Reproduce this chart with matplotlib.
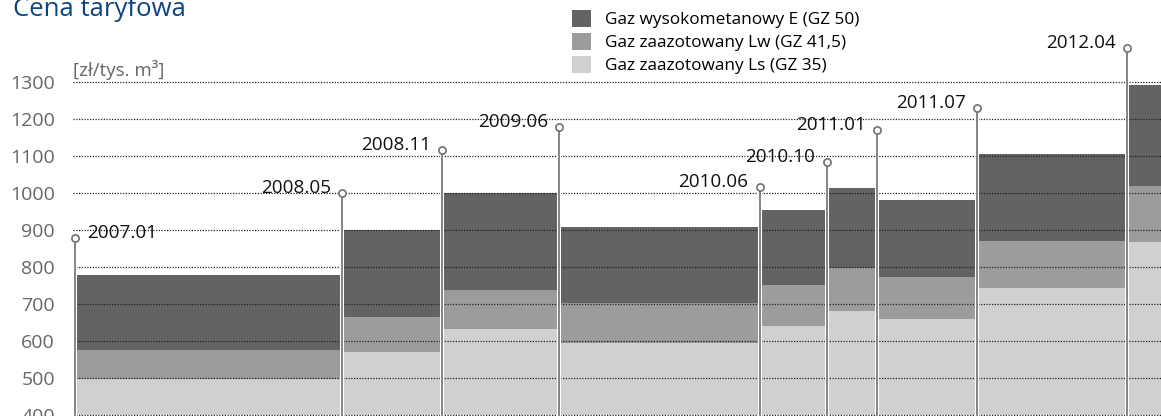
import numpy as np
import matplotlib.pyplot as plt
from matplotlib.patches import Patch
import matplotlib.patheffects as pe

plt.rcParams['font.family'] = ['Open Sans', 'DejaVu Sans']

# tariff change dates and price levels [zł/tys. m3]
dates = ['2007.01', '2008.05', '2008.11', '2009.06', '2010.06',
         '2010.10', '2011.01', '2011.07', '2012.04']
gaz_E = [778, 899, 999, 907, 954, 1013, 981, 1105, 1292]
gaz_Lw = [576, 665, 737, 703, 751, 798, 773, 870, 1019]
gaz_Ls = [497, 571, 632, 595, 641, 681, 660, 743, 868]
# height of the date markers
label_y = [878, 999, 1116, 1178, 1017, 1085, 1170, 1229, 1391]

names = ['Gaz wysokometanowy E (GZ 50)', 'Gaz zaazotowany Lw (GZ 41,5)',
         'Gaz zaazotowany Ls (GZ 35)']
colors = ['#636363', '#9c9c9c', '#d0d0d0']
yticks = np.arange(400, 1301, 100)

# months since 2007.01
x = np.array([(int(d[:4]) - 2007) * 12 + int(d[5:]) - 1 for d in dates])
xmin, xmax = -0.12, 65.03
edges = np.append(x, xmax)
widths = np.diff(edges)

W, H = 1161, 416
fig = plt.figure(figsize=(W / 100, H / 100), dpi=100)
ax = fig.add_axes([73 / W, 0, 1 - 73 / W, 1])
ax.set_xlim(xmin, xmax)
ax.set_ylim(397.3, 1521.6)

base = yticks[0]
for vals, c in zip([gaz_E, gaz_Lw, gaz_Ls], colors):
    ax.bar(x, np.array(vals) - base, width=widths, bottom=base, align='edge',
           color=c, linewidth=0, zorder=1)

# dotted grid on top of the fills
ax.hlines(yticks, xmin, xmax, colors='#222222', linewidth=0.9,
          linestyles=(0, (1, 1.2)), zorder=2)

# stems with markers
ax.vlines(x, 397.3, label_y, colors='#707070', linewidth=1.2, zorder=3,
          path_effects=[pe.withStroke(linewidth=2.9, foreground='white')])
ax.plot(x, label_y, 'o', ms=5.2, mfc='white', mec='#707070', mew=1.2,
        zorder=4, clip_on=False)

for i, (xi, yi, d) in enumerate(zip(x, label_y, dates)):
    if i == 0:
        ax.annotate(d, (xi, yi), xytext=(9, 0), textcoords='offset points',
                    ha='left', va='baseline', fontsize=13.6, color='#111111')
    else:
        ax.annotate(d, (xi, yi), xytext=(-8, 0), textcoords='offset points',
                    ha='right', va='baseline', fontsize=13.6, color='#111111')

ax.set_yticks(yticks)
ax.set_yticklabels([str(v) for v in yticks], fontsize=14, color='#666666')
ax.tick_params(axis='y', length=0, pad=13)
ax.set_xticks([])
for s in ax.spines.values():
    s.set_visible(False)

ax.text(xmin, 1316, '[zł/tys. m³]', fontsize=13.5, color='#666666',
        ha='left', va='baseline')

fig.text(13 / W, 1 - 16 / H, 'Cena taryfowa', fontsize=18.5, color='#0d4480',
         ha='left', va='baseline')

handles = [Patch(facecolor=c, edgecolor='none') for c in colors]
fig.legend(handles, names, loc='upper left', bbox_to_anchor=(572 / W, 1 - 10 / H),
           frameon=False, fontsize=12.4, handlelength=1.12, handleheight=1.12,
           handletextpad=0.78, labelspacing=0.28, borderpad=0, borderaxespad=0)

fig.savefig('out.png', dpi=100)
